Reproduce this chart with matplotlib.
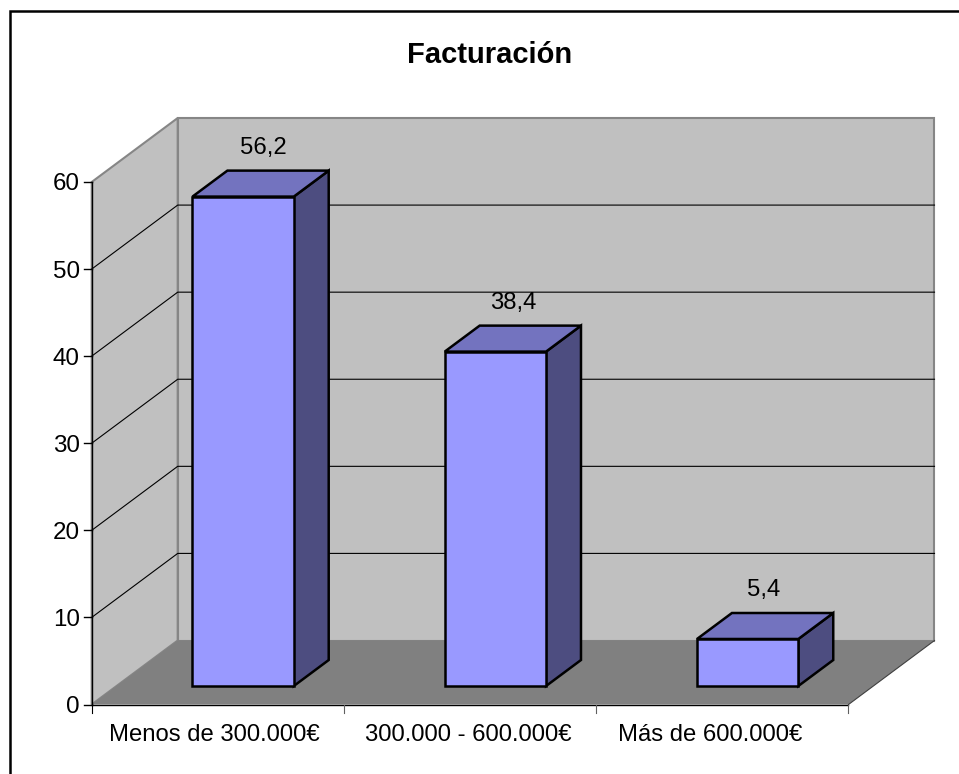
import matplotlib
matplotlib.use("Agg")
import matplotlib.pyplot as plt
from matplotlib.patches import Polygon

categories = ["Menos de 300.000€", "300.000 - 600.000€", "Más de 600.000€"]
values = [56.2, 38.4, 5.4]
value_labels = ["56,2", "38,4", "5,4"]
y_ticks = [0, 10, 20, 30, 40, 50, 60]
title = "Facturación"

# pixel geometry of the fake 3D box
X0, X1 = 91.7, 848.5
Y0, Y60 = 704.5, 182.0
DX, DY = 86.0, -64.0
BAR_NEAR, BAR_FAR = 0.289, 0.695
BAR_A, BAR_B = 0.301, 0.7026

# small nudges, labels are not quite centred in the original
cat_label_shift = [-3.1, -2.0, -12.0]
val_label_shift = [20.3, 17.9, 16.5]

WALL = "#c0c0c0"
FLOOR = "#808080"
EDGE = "#868686"
BAR_FRONT = "#9999ff"
BAR_TOP = "#7373bf"
BAR_SIDE = "#4d4d80"


def pt(cat, val, depth=0.0):
    # category position, value, depth (0 front, 1 back wall) -> pixels
    x = X0 + (X1 - X0) * cat / len(categories)
    y = Y0 + (Y60 - Y0) * val / 60
    return x + DX * depth, y + DY * depth


def poly(ax, points, face, edge="none", lw=0, zorder=1):
    ax.add_patch(Polygon(points, closed=True, facecolor=face, edgecolor=edge,
                         linewidth=lw, joinstyle="miter", zorder=zorder))


plt.rcParams["font.family"] = ["Liberation Sans", "DejaVu Sans"]
fig = plt.figure(figsize=(9.59, 7.74), dpi=100)
ax = fig.add_axes([0, 0, 1, 1])
ax.set_xlim(0, 959)
ax.set_ylim(774, 0)
ax.axis("off")

# frame only shows on top and left
ax.plot([9.5, 9.5, 959], [774, 10.5, 10.5], color="black", lw=1.8, solid_joinstyle="miter", zorder=0)
ax.text(489.5, 63, title, fontsize=21, fontweight="bold", ha="center", va="baseline")

n = len(categories)
ymax = y_ticks[-1]

# walls and floor
poly(ax, [pt(0, 0), pt(0, ymax), pt(0, ymax, 1), pt(0, 0, 1)], WALL, EDGE, 1.5)
poly(ax, [pt(0, 0, 1), pt(0, ymax, 1), pt(n, ymax, 1), pt(n, 0, 1)], WALL, EDGE, 1.5)
poly(ax, [pt(0, 0), pt(0, 0, 1), pt(n, 0, 1), pt(n, 0)], FLOOR, zorder=1.5)
xs, ys = zip(pt(n, 0), pt(n, 0, 1))
ax.plot(xs, ys, color="#404040", lw=0.8, zorder=1.6)

# gridlines
for t in y_ticks[1:-1]:
    xs, ys = zip(pt(0, t), pt(0, t, 1), pt(n, t, 1))
    ax.plot(xs, ys, color="black", lw=0.8, zorder=2)

# axes and ticks
xs, ys = zip(pt(0, 0), pt(0, ymax))
ax.plot(xs, ys, color="black", lw=1.0, zorder=3)
xs, ys = zip(pt(0, 0), pt(n, 0))
ax.plot(xs, ys, color="black", lw=1.0, zorder=3)
for t in y_ticks:
    x, y = pt(0, t)
    ax.plot([x - 8, x], [y, y], color="black", lw=1.0, zorder=3)
    ax.text(x - 12, y + 8.5, str(t), fontsize=17.4, ha="right", va="baseline")
for i in range(n + 1):
    x, y = pt(i, 0)
    ax.plot([x, x], [y, y + 8], color="black" if i == 0 else "#606060", lw=0.8, zorder=3)
for i, c in enumerate(categories):
    x, y = pt(i + 0.5, 0)
    ax.text(x + cat_label_shift[i], y + 36.5, c, fontsize=17.2, ha="center", va="baseline")

# bars
for i, v in enumerate(values):
    a, b = i + BAR_A, i + BAR_B
    poly(ax, [pt(b, 0, BAR_NEAR), pt(b, 0, BAR_FAR), pt(b, v, BAR_FAR), pt(b, v, BAR_NEAR)],
         BAR_SIDE, "black", 1.8, 4)
    poly(ax, [pt(a, v, BAR_NEAR), pt(a, v, BAR_FAR), pt(b, v, BAR_FAR), pt(b, v, BAR_NEAR)],
         BAR_TOP, "black", 1.8, 4)
    poly(ax, [pt(a, 0, BAR_NEAR), pt(a, v, BAR_NEAR), pt(b, v, BAR_NEAR), pt(b, 0, BAR_NEAR)],
         BAR_FRONT, "black", 1.8, 5)
    x, y = pt(i + 0.5, v, BAR_NEAR)
    ax.text(x + val_label_shift[i], y - 43, value_labels[i], fontsize=17.2,
            ha="center", va="baseline", zorder=6)

fig.savefig("out.png", dpi=100)
plt.close(fig)
